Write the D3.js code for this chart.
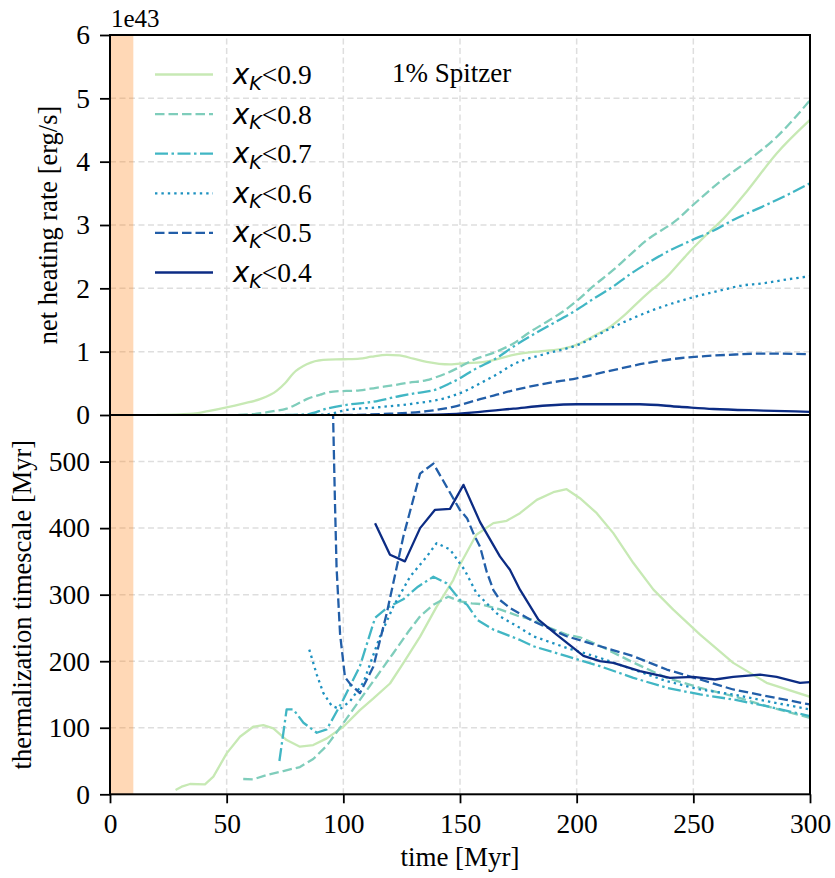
<!DOCTYPE html>
<html>
<head>
<meta charset="utf-8">
<script src="https://cdn.jsdelivr.net/npm/d3@7/dist/d3.min.js"></script>
<style>
  html, body { margin: 0; padding: 0; background: #fff; }
  svg { display: block; }
</style>
</head>
<body>
<svg id="chart" width="835" height="878"></svg>
<script>
// Net heating rate (units of 1e43 erg/s) versus time [Myr]
const heat09 = [[20,0],[30,0.01],[35.7,0.02],[42,0.06],[50,0.12],[57,0.18],[64.3,0.25],[71.4,0.38],[75,0.5],[78.6,0.66],[84.3,0.80],[91.4,0.87],[100,0.88],[107,0.89],[112,0.92],[118.6,0.95],[124,0.94],[130,0.89],[135.7,0.84],[145.7,0.80],[152.9,0.82],[158.6,0.83],[165.7,0.88],[172.9,0.95],[185,1.01],[194.3,1.05],[201.4,1.13],[207,1.24],[214.3,1.39],[220,1.56],[225.7,1.76],[232,1.97],[238.6,2.18],[245,2.44],[250,2.64],[256,2.86],[262.9,3.1],[272.9,3.53],[285.7,4.13],[300,4.66]];
const heat08 = [[55,0],[62.9,0.02],[70,0.06],[75.7,0.1],[80,0.17],[84.3,0.25],[90,0.32],[95.7,0.37],[107,0.39],[114,0.43],[121.4,0.47],[128,0.51],[135.7,0.55],[140,0.6],[144.3,0.66],[150,0.76],[155.7,0.87],[165.7,1.0],[172.9,1.13],[180,1.31],[187.1,1.47],[194,1.63],[200,1.80],[207,2.03],[215.7,2.29],[222,2.5],[230,2.76],[242.9,3.08],[250,3.32],[262,3.7],[272.9,4.0],[285.7,4.39],[300,4.97]];
const heat07 = [[75,0],[84.3,0.01],[92.9,0.1],[101.4,0.16],[112.9,0.21],[124.3,0.3],[132,0.35],[138.6,0.39],[145.7,0.5],[150,0.58],[155.7,0.71],[165.7,0.9],[172.9,1.08],[180,1.24],[187.1,1.39],[200,1.66],[207,1.83],[215.7,2.03],[222,2.2],[230,2.39],[240,2.6],[250,2.77],[258,2.9],[267.1,3.08],[281.4,3.32],[290,3.47],[300,3.66]];
const heat06 = [[85,0],[92.9,0.01],[101.4,0.08],[114.3,0.12],[130,0.18],[142.9,0.26],[152.9,0.39],[158.6,0.5],[165.7,0.64],[172.9,0.8],[187.1,0.97],[200,1.1],[215.7,1.39],[232.9,1.66],[250,1.86],[262,1.97],[270,2.04],[280,2.08],[290,2.14],[300,2.19]];
const heat05 = [[100,0],[120,0.02],[135.7,0.06],[147.1,0.13],[158.6,0.25],[165.7,0.32],[172.9,0.39],[187.1,0.5],[200,0.58],[215.7,0.71],[230,0.82],[245,0.9],[255,0.93],[265,0.95],[280,0.97],[300,0.96]];
const heat04 = [[125,0],[142.9,0.01],[158.6,0.05],[172.9,0.1],[187.1,0.15],[200,0.17],[227,0.17],[244,0.13],[258.6,0.095],[280,0.07],[300,0.05]];

// Thermalization timescale [Myr] versus time [Myr]
const therm09 = [[28.1,6.5],[30.7,11.5],[34.3,15.5],[40.7,15],[44.3,26.5],[50,61.5],[55.7,86.5],[61.4,101.5],[65.7,104],[70,99],[75.7,81.5],[81.4,71.5],[87.1,74],[92.9,84],[100,101.5],[107.1,126.5],[112.9,144],[120,166.5],[125.7,197],[132.9,237],[140,282],[147.1,322],[150,345],[157,390],[164.3,407.5],[170,411],[175.7,422.5],[182.9,442.5],[190,454],[195.7,458.5],[201.4,445],[208.6,422.5],[215.7,392.5],[224.3,347.5],[232.9,307.5],[241.4,277.5],[252.9,240],[267.1,197.5],[281.4,167.5],[300,146.5]];
const therm08 = [[57.1,23],[61.4,22.5],[67.1,29],[74.3,35],[81.4,41],[87.1,53],[92.9,73],[100,107],[107.1,142],[114.3,177],[121.4,212],[128,245],[133,268],[138.6,285],[145,297],[150,290],[155,287],[158.6,286],[167.1,278],[175,268],[181.4,262],[187.1,252],[195.7,240],[201.4,236],[210,223],[224.3,198],[238.6,175],[252.9,160],[267.1,147.5],[281.4,132.5],[300,115]];
const therm07 = [[72.6,50],[75.7,127.5],[78.6,127.5],[82.9,107.5],[88.6,92.5],[92.9,97.5],[100,142.5],[107.1,192.5],[113.6,265],[118.6,280],[125.7,293],[132,312],[138.6,327],[144.3,317],[150,292],[153,285],[157.5,262],[164.3,247.5],[175.7,232],[181.4,222.5],[195.7,207.5],[210,192.5],[224.3,175],[238.6,160],[252.9,150],[267.1,142.5],[281.4,132.5],[300,117.5]];
const therm06 = [[85.4,217.5],[88.6,180],[91.4,152.5],[95,133],[98.6,128],[102.9,140],[108.6,168],[115.7,237],[121.4,282],[128.6,327],[135.7,357],[140,377.5],[145.7,368],[152,337],[157.1,302],[158.6,297],[164.3,277],[167.1,267.5],[175.7,250],[181.4,237.5],[195.7,220],[210,205],[224.3,187.5],[238.6,170],[252.9,157.5],[267.1,150],[281.4,140],[300,127.5]];
const therm05 = [[94.8,700],[96.4,441],[97.1,341],[98.6,241],[100.7,176],[102.9,166],[107.1,152],[112.9,192],[118.6,272],[125.7,387],[132.9,482],[138.6,497],[144.3,462],[150,427],[153,415],[156,390],[158.6,372],[161.4,335],[164.3,307],[167.1,292],[171.4,280],[181.4,260],[195.7,237.5],[210,222.5],[224.3,207.5],[238.6,187.5],[252.9,172.5],[267.1,157.5],[281.4,147.5],[300,135]];
const therm04 = [[113.6,407.5],[120,360],[126.4,350],[132.9,400],[139.3,427.5],[145.7,429],[151.5,465],[158.6,409],[167.1,357.5],[171.4,337.5],[175.7,307.5],[183.6,262.5],[191.4,240],[202.9,208],[210,200],[215.7,197.5],[227.1,185],[240,175],[250,176.5],[259.3,172.5],[267.1,176.5],[278.6,180],[285.7,176.5],[295.7,167.5],[300,168.5]];

// Series labels (x_K thresholds) and tick values
const thresholds = ["0.9", "0.8", "0.7", "0.6", "0.5", "0.4"];
const timeTicks = [0, 50, 100, 150, 200, 250, 300];
const heatTicks = [0, 1, 2, 3, 4, 5, 6];
const thermTicks = [0, 100, 200, 300, 400, 500];

const colors = ["#c7e9b4", "#7fcdbb", "#41b6c4", "#1d91c0", "#225ea8", "#0c2c84"];
const dashes = [null, "9.5,4", "13,3.5,2.5,3.5", "2.4,4", "9.5,4", null];

const heatSeries = [heat09, heat08, heat07, heat06, heat05, heat04];
const thermSeries = [therm09, therm08, therm07, therm06, therm05, therm04];

const serif = "'Liberation Serif', 'Times New Roman', serif";
const sans = "'DejaVu Sans', sans-serif";

const L = 110, R = 810, T = 35, M = 415, B = 794.3;
const svg = d3.select("#chart");

const x = d3.scaleLinear().domain([0, 300]).range([L, R]);
const yTop = d3.scaleLinear().domain([0, 6]).range([M, T]);
const yBot = d3.scaleLinear().domain([0, 570]).range([B, M]);

const defs = svg.append("defs");
defs.append("clipPath").attr("id", "clipTop")
  .append("rect").attr("x", L).attr("y", T).attr("width", R - L).attr("height", M - T);
defs.append("clipPath").attr("id", "clipBot")
  .append("rect").attr("x", L).attr("y", M).attr("width", R - L).attr("height", B - M);

function panel(yScale, yTicks, clipId, series, curve) {
  const y0 = yScale.range()[0], y1 = yScale.range()[1];
  const g = svg.append("g");
  // grid
  const grid = g.append("g").attr("stroke", "#dedede").attr("stroke-width", 1.5)
    .attr("stroke-dasharray", "6,3.5");
  grid.selectAll("line.v").data(timeTicks.filter(d => d > 0 && d < 300)).join("line")
    .attr("x1", d => x(d)).attr("x2", d => x(d)).attr("y1", y0).attr("y2", y1);
  grid.selectAll("line.h").data(yTicks.filter(d => d > 0 && yScale(d) > y1 + 1)).join("line")
    .attr("y1", d => yScale(d)).attr("y2", d => yScale(d)).attr("x1", L).attr("x2", R);
  // early-time band
  g.append("rect").attr("x", x(0)).attr("width", x(10) - x(0))
    .attr("y", y1).attr("height", y0 - y1)
    .attr("fill", "#ff7f0e").attr("fill-opacity", 0.3);
  // lines
  const line = d3.line().x(d => x(d[0])).y(d => yScale(d[1])).curve(curve);
  const lg = g.append("g").attr("clip-path", `url(#${clipId})`);
  series.forEach((s, i) => {
    lg.append("path").datum(s).attr("d", line)
      .attr("fill", "none").attr("stroke", colors[i]).attr("stroke-width", 2.3)
      .attr("stroke-dasharray", dashes[i]).attr("stroke-linejoin", "round");
  });
  // y axis
  const ax = g.append("g").attr("transform", `translate(${L},0)`)
    .call(d3.axisLeft(yScale).tickValues(yTicks).tickSize(10).tickPadding(10).tickFormat(d3.format("d")));
  ax.select(".domain").remove();
  ax.selectAll(".tick line").attr("stroke", "#000").attr("stroke-width", 1.8);
  ax.selectAll(".tick text").attr("font-family", serif).attr("font-size", 27.5).attr("fill", "#000");
  // frame
  g.append("rect").attr("x", L).attr("y", y1).attr("width", R - L).attr("height", y0 - y1)
    .attr("fill", "none").attr("stroke", "#000").attr("stroke-width", 2);
  return g;
}

panel(yTop, heatTicks, "clipTop", heatSeries, d3.curveMonotoneX);
panel(yBot, thermTicks, "clipBot", thermSeries, d3.curveLinear);

// bottom x axis
const xa = svg.append("g").attr("transform", `translate(0,${B})`)
  .call(d3.axisBottom(x).tickValues(timeTicks).tickSize(9).tickPadding(10).tickFormat(d3.format("d")));
xa.select(".domain").remove();
xa.selectAll(".tick line").attr("stroke", "#000").attr("stroke-width", 1.8);
xa.selectAll(".tick text").attr("font-family", serif).attr("font-size", 27.5).attr("fill", "#000");

// axis titles
svg.append("text").attr("x", (L + R) / 2).attr("y", 866).attr("text-anchor", "middle")
  .attr("font-family", serif).attr("font-size", 27).text("time [Myr]");
svg.append("text").attr("transform", `translate(57,${(T + M) / 2}) rotate(-90)`)
  .attr("text-anchor", "middle").attr("font-family", serif).attr("font-size", 26.5)
  .text("net heating rate [erg/s]");
svg.append("text").attr("transform", `translate(31,${(M + B) / 2}) rotate(-90)`)
  .attr("text-anchor", "middle").attr("font-family", serif).attr("font-size", 26.5)
  .text("thermalization timescale [Myr]");

// offset label and annotation
svg.append("text").attr("x", 111).attr("y", 27).attr("font-family", serif).attr("font-size", 25).text("1e43");
svg.append("text").attr("x", 392).attr("y", 82).attr("font-family", serif).attr("font-size", 27).text("1% Spitzer");

// legend
const legend = svg.append("g");
thresholds.forEach((th, i) => {
  const yy = 74.5 + i * 39.6;
  legend.append("line").attr("x1", 155).attr("x2", 213).attr("y1", yy).attr("y2", yy)
    .attr("stroke", colors[i]).attr("stroke-width", 2.3).attr("stroke-dasharray", dashes[i]);
  const t = legend.append("text").attr("x", 233).attr("y", yy + 9.5).attr("font-size", 27.5);
  t.append("tspan").attr("font-family", sans).attr("font-style", "italic").text("x");
  t.append("tspan").attr("font-family", sans).attr("font-style", "italic")
    .attr("font-size", 19).attr("dy", 5.5).text("K");
  t.append("tspan").attr("font-family", serif).attr("dy", -5.5).text("<" + th);
});
</script>
</body>
</html>
